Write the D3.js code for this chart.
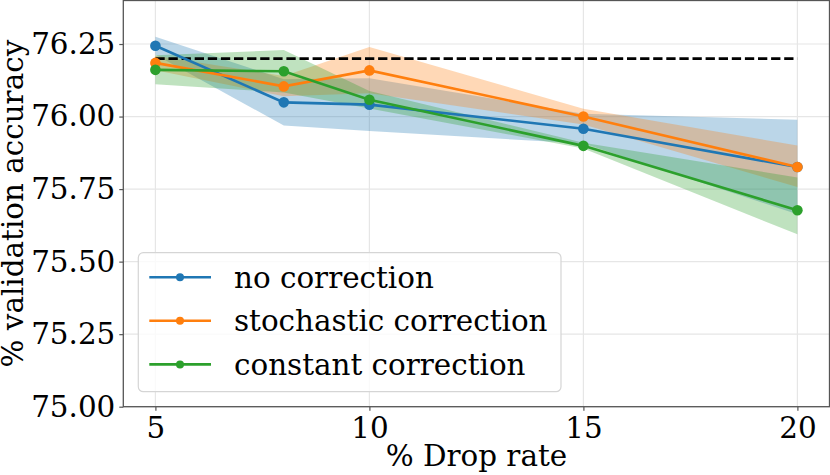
<!DOCTYPE html>
<html>
<head>
<meta charset="utf-8">
<script src="https://cdn.jsdelivr.net/npm/d3@7"></script>
<style>
  body { margin: 0; background: #fff; }
  text { font-family: "DejaVu Serif", serif; fill: #000; }
</style>
</head>
<body>
<div id="chart"></div>
<script>
// data
const dropRates = [5, 8, 10, 15, 20];
const xTicks = [5, 10, 15, 20];
const yTicks = [75.0, 75.25, 75.5, 75.75, 76.0, 76.25];
const baseline = 76.2;

const noCorr   = [76.244, 76.049, 76.041, 75.958, 75.826];
const noCorrLo = [76.213, 75.969, 75.950, 75.907, 75.663];
const noCorrHi = [76.275, 76.129, 76.132, 76.010, 75.989];

const stochCorr   = [76.185, 76.104, 76.159, 76.000, 75.826];
const stochCorrLo = [76.160, 76.070, 76.080, 75.973, 75.757];
const stochCorrHi = [76.210, 76.140, 76.240, 76.027, 75.900];

const constCorr   = [76.161, 76.156, 76.058, 75.899, 75.677];
const constCorrLo = [76.111, 76.083, 76.028, 75.890, 75.594];
const constCorrHi = [76.211, 76.229, 76.088, 75.910, 75.790];

const seriesNames = ["no correction", "stochastic correction", "constant correction"];
const colors = ["#1f77b4", "#ff7f0e", "#2ca02c"];

const series = [
  {name: seriesNames[0], mean: noCorr, lo: noCorrLo, hi: noCorrHi, color: colors[0]},
  {name: seriesNames[1], mean: stochCorr, lo: stochCorrLo, hi: stochCorrHi, color: colors[1]},
  {name: seriesNames[2], mean: constCorr, lo: constCorrLo, hi: constCorrHi, color: colors[2]}
];

const W = 830, H = 475;
const margin = {top: 0.5, right: 0.5, bottom: 68.3, left: 123.3};
const width = W - margin.left - margin.right, height = H - margin.top - margin.bottom;
const fs = 29.4;

const root = d3.select("#chart").append("svg")
  .attr("width", W).attr("height", H);

const svg = root.append("g")
  .attr("transform", `translate(${margin.left}, ${margin.top})`);

const xScale = d3.scaleLinear().domain([4.25, 20.75]).range([0, width]);
const yScale = d3.scaleLinear().domain([75.0, 76.4]).range([height, 0]);

// grid
svg.append("g").selectAll("line").data(xTicks).join("line")
  .attr("x1", d => xScale(d)).attr("x2", d => xScale(d))
  .attr("y1", 0).attr("y2", height)
  .attr("stroke", "#e6e6e6").attr("stroke-width", 1.2);
svg.append("g").selectAll("line").data(yTicks).join("line")
  .attr("y1", d => yScale(d)).attr("y2", d => yScale(d))
  .attr("x1", 0).attr("x2", width)
  .attr("stroke", "#e6e6e6").attr("stroke-width", 1.2);

// bands
const area = d3.area()
  .x((d, i) => xScale(dropRates[i]))
  .y0(d => yScale(d[0]))
  .y1(d => yScale(d[1]));

svg.append("g").selectAll("path").data(series).join("path")
  .attr("d", s => area(s.lo.map((v, i) => [v, s.hi[i]])))
  .attr("fill", s => s.color)
  .attr("fill-opacity", 0.3);

// reference dashed line
svg.append("line")
  .attr("x1", xScale(dropRates[0])).attr("x2", xScale(dropRates[dropRates.length - 1]))
  .attr("y1", yScale(baseline)).attr("y2", yScale(baseline))
  .attr("stroke", "#000").attr("stroke-width", 2.7)
  .attr("stroke-dasharray", "9.3,3.8");

// lines + markers
const line = d3.line()
  .x((d, i) => xScale(dropRates[i]))
  .y(d => yScale(d));

const groups = svg.append("g").selectAll("g").data(series).join("g");
groups.append("path")
  .attr("d", s => line(s.mean))
  .attr("fill", "none")
  .attr("stroke", s => s.color)
  .attr("stroke-width", 2.6);
groups.selectAll("circle").data(s => s.mean.map((v, i) => ({v, x: dropRates[i], c: s.color}))).join("circle")
  .attr("cx", d => xScale(d.x)).attr("cy", d => yScale(d.v))
  .attr("r", 5.3).attr("fill", d => d.c);

// axes
const xAxis = d3.axisBottom(xScale).tickValues(xTicks).tickSize(4).tickPadding(6).tickFormat(d3.format("d"));
const yAxis = d3.axisLeft(yScale).tickValues(yTicks).tickSize(4).tickPadding(4).tickFormat(d3.format(".2f"));

const gx = svg.append("g").attr("transform", `translate(0, ${height})`).call(xAxis);
const gy = svg.append("g").call(yAxis);
[gx, gy].forEach(g => {
  g.select(".domain").remove();
  g.selectAll(".tick line").attr("stroke", "#555").attr("stroke-width", 1.2);
  g.selectAll(".tick text").attr("font-size", fs).attr("font-family", "DejaVu Serif").attr("fill", "#000");
});

// frame
svg.append("rect")
  .attr("width", width).attr("height", height)
  .attr("fill", "none").attr("stroke", "#555").attr("stroke-width", 1.3);

// axis labels
svg.append("text")
  .attr("x", width / 2).attr("y", height + 59)
  .attr("text-anchor", "middle").attr("font-size", fs)
  .text("% Drop rate");
svg.append("text")
  .attr("transform", `translate(${23 - margin.left}, ${height / 2}) rotate(-90)`)
  .attr("text-anchor", "middle").attr("font-size", fs)
  .text("% validation accuracy");

// legend
const legend = svg.append("g").attr("transform", "translate(15, 252.2)");
legend.append("rect")
  .attr("width", 422.7).attr("height", 139)
  .attr("rx", 5).attr("ry", 5)
  .attr("fill", "#fff").attr("fill-opacity", 0.8)
  .attr("stroke", "#d5d5d5").attr("stroke-width", 1.2);
const items = legend.selectAll("g.item").data(series).join("g")
  .attr("class", "item")
  .attr("transform", (d, i) => `translate(0, ${24.5 + i * 43.6})`);
items.append("line")
  .attr("x1", 11).attr("x2", 72.7).attr("y1", 0).attr("y2", 0)
  .attr("stroke", d => d.color).attr("stroke-width", 2.6);
items.append("circle")
  .attr("cx", 41.7).attr("cy", 0).attr("r", 4).attr("fill", d => d.color);
items.append("text")
  .attr("x", 95.7).attr("y", 10.5)
  .attr("font-size", fs)
  .text(d => d.name);
</script>
</body>
</html>
